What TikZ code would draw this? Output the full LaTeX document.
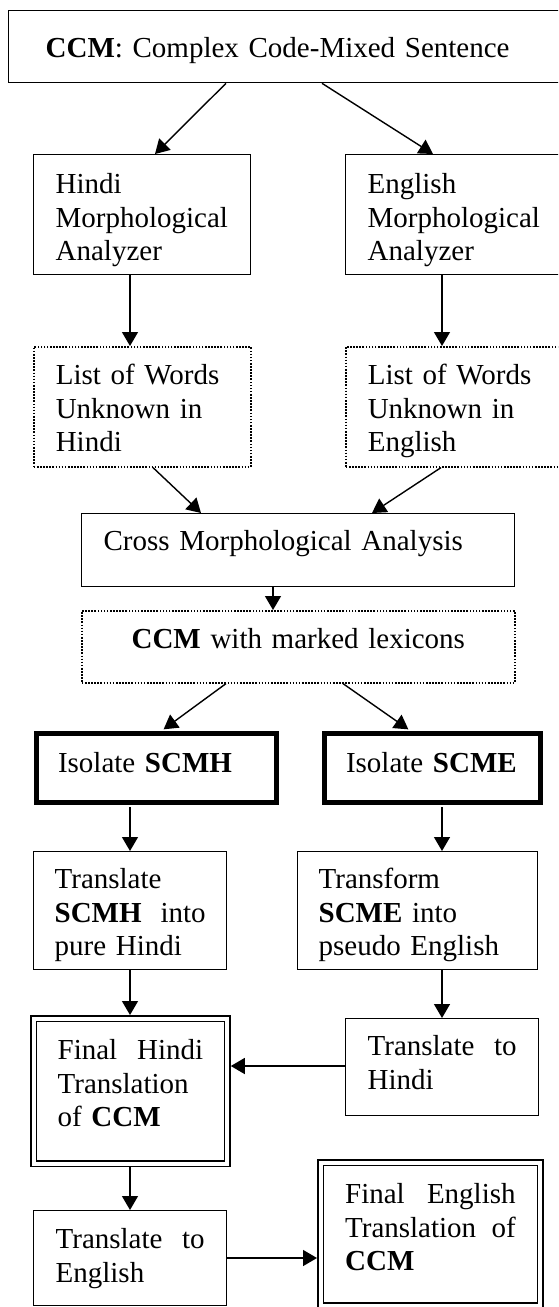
\documentclass[tikz,border=0pt]{standalone}
\usepackage{fontspec}
\setmainfont{Liberation Serif}
\usetikzlibrary{arrows.meta}

\begin{document}
\begin{tikzpicture}[x=1pt, y=-1pt,
  box/.style={draw, line width=1.3pt, anchor=north west, align=left,
              inner xsep=22pt, inner ysep=0pt, text height=38pt,
              font=\fontsize{29pt}{33.5pt}\selectfont},
  dotbox/.style={box, line width=1.6pt, dash pattern=on 1.6pt off 1.5pt},
  heavybox/.style={box, line width=5pt, text height=39.5pt},
  dblbox/.style={box, double, double distance=4.2pt, text height=41pt, inner xsep=24pt},
  arr/.style={-{Triangle[length=14pt, width=16pt]}, line width=1.4pt},
]
\clip (0,0) rectangle (558,1307);

% input and the two analyzers
\node[box, inner xsep=37pt, text width=488pt, text height=47pt, text depth=25pt] (ccm) at (8,10)
  {\textbf{CCM}: Complex Code-Mixed Sentence};
\node[box, text width=173pt, text height=39pt, text depth=81pt] (hma) at (33,154)
  {Hindi\\Morphological\\Analyzer};
\node[box, text width=181pt, text height=39pt, text depth=81pt] (ema) at (345,154)
  {English\\Morphological\\Analyzer};
\node[dotbox, text width=173pt, text depth=82pt] (lwh) at (33,346)
  {List of Words\\Unknown in\\Hindi};
\node[dotbox, text width=181pt, text depth=82pt] (lwe) at (345,346)
  {List of Words\\Unknown in\\English};

% cross analysis
\node[box, text width=389pt, text height=37pt, text depth=36pt] (cma) at (81,513)
  {Cross Morphological Analysis};
\node[dotbox, align=center, text width=389pt, text depth=34pt] (ccml) at (81,610)
  {\textbf{CCM} with marked lexicons};

% the two branches
\node[heavybox, text width=196pt, text depth=30pt] (ish) at (33.5,730.5)
  {Isolate \textbf{SCMH}};
\node[heavybox, text width=172pt, text depth=30pt] (ise) at (321.5,730.5)
  {Isolate \textbf{SCME}};
\node[box, inner xsep=21pt, text width=151pt, text height=37pt, text depth=81pt] (tsh) at (33,851)
  {Translate\\\textbf{SCMH}\hfill into\\pure Hindi};
\node[box, inner xsep=21pt, text width=198pt, text height=37pt, text depth=81pt] (tse) at (297,851)
  {Transform\\\textbf{SCME} into\\pseudo English};
\node[dblbox, text width=145.5pt, text depth=104pt] (fh) at (33,1018)
  {Final\hfill Hindi\\Translation\\of \textbf{CCM}};
\node[box, text width=149pt, text height=37pt, text depth=60pt] (th) at (345,1018)
  {Translate\hfill to\\Hindi};
\node[box, text width=149pt, text depth=57pt] (te) at (33,1210)
  {Translate\hfill to\\English};
\node[dblbox, inner xsep=24.5pt, text width=170.5pt, text depth=102pt] (fe) at (320,1162)
  {Final\hfill English\\Translation\hfill of\\\textbf{CCM}};

% connectors
\draw[arr] ([xshift=218pt]ccm.south west) -- ([xshift=122pt]hma.north west);
\draw[arr] ([xshift=314pt]ccm.south west) -- ([xshift=88pt]ema.north west);
\draw[arr] ([xshift=97pt]hma.south west) -- ([xshift=97pt]lwh.north west);
\draw[arr] ([xshift=97pt]ema.south west) -- ([xshift=97pt]lwe.north west);
\draw[arr] ([xshift=120pt]lwh.south west) -- ([xshift=120pt]cma.north west);
\draw[arr] ([xshift=96pt]lwe.south west) -- ([xshift=291pt]cma.north west);
\draw[arr] ([xshift=192pt]cma.south west) -- ([xshift=192pt]ccml.north west);
\draw[arr, shorten >=2pt] ([xshift=145pt]ccml.south west) -- ([xshift=128.5pt]ish.north west);
\draw[arr, shorten >=2pt] ([xshift=262pt]ccml.south west) -- ([xshift=88.5pt]ise.north west);
\draw[arr, shorten <=2pt] ([xshift=96.5pt]ish.south west) -- ([xshift=97pt]tsh.north west);
\draw[arr, shorten <=2pt] ([xshift=120.5pt]ise.south west) -- ([xshift=145pt]tse.north west);
\draw[arr, shorten >=3pt] ([xshift=97pt]tsh.south west) -- ([xshift=97pt]fh.north west);
\draw[arr] ([xshift=145pt]tse.south west) -- ([xshift=97pt]th.north west);
\draw[arr, shorten >=3pt] ([yshift=-48pt]th.north west) -- ([yshift=-48pt]fh.north east);
\draw[arr, shorten <=3pt] ([xshift=97pt]fh.south west) -- ([xshift=97pt]te.north west);
\draw[arr, shorten >=3pt] ([yshift=-48pt]te.north east) -- ([yshift=-96pt]fe.north west);
\end{tikzpicture}
\end{document}
